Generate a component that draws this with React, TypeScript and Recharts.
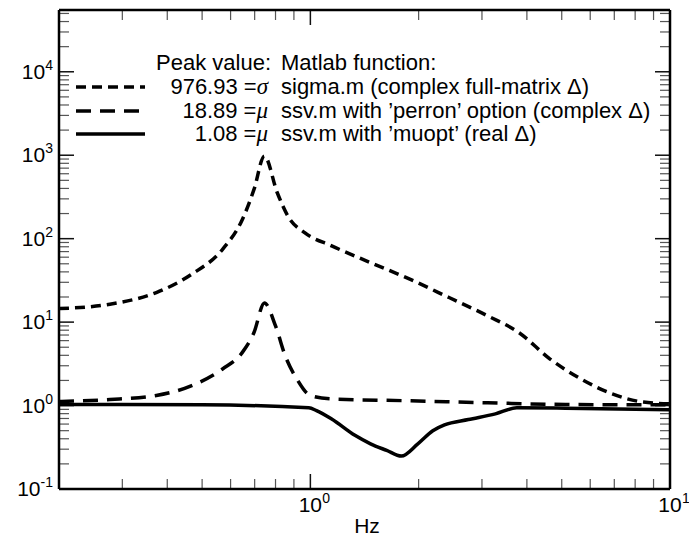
import React from "react";
import * as R from "recharts";
import {
  LineChart,
  Line,
  XAxis,
  YAxis,
  Customized,
} from "recharts";

// frequency (Hz) / value pairs
const sigmaHz = [0.2, 0.277, 0.373, 0.468, 0.57, 0.647, 0.697, 0.745, 0.809, 0.871, 0.964, 1.146, 1.47, 1.89, 2.43, 3.11, 3.8, 4.64, 5.66, 6.91, 8.43, 10];
const sigmaVal = [14.5, 16.4, 22.6, 37.5, 74.6, 170, 389, 976.93, 355, 179, 118, 82, 51.6, 32.7, 19.7, 11.9, 7.5, 3.61, 2.08, 1.38, 1.1, 1.05];

const perronHz = [0.2, 0.277, 0.373, 0.468, 0.57, 0.647, 0.697, 0.745, 0.8, 0.851, 0.917, 1.0, 1.146, 1.89, 3.11, 5.12, 10];
const perronVal = [1.12, 1.18, 1.32, 1.73, 2.74, 4.34, 7.5, 17, 9.0, 3.96, 2.08, 1.32, 1.2, 1.14, 1.08, 1.03, 1.02];

const muoptHz = [0.2, 0.5, 0.99, 1.04, 1.146, 1.33, 1.47, 1.63, 1.79, 1.99, 2.19, 2.36, 2.75, 3.27, 3.75, 5.12, 10];
const muoptVal = [1.03, 1.02, 0.94, 0.87, 0.69, 0.44, 0.348, 0.29, 0.248, 0.348, 0.5, 0.587, 0.68, 0.795, 0.94, 0.93, 0.89];

const xDomain = [0.2, 10];
const yDomain = [0.1, 55000];
const xTicks = [0.3, 0.4, 0.5, 0.6, 0.7, 0.8, 0.9, 1, 2, 3, 4, 5, 6, 7, 8, 9, 10];
const yTicks = [
  0.1, 0.2, 0.3, 0.4, 0.5, 0.6, 0.7, 0.8, 0.9,
  1, 2, 3, 4, 5, 6, 7, 8, 9,
  10, 20, 30, 40, 50, 60, 70, 80, 90,
  100, 200, 300, 400, 500, 600, 700, 800, 900,
  1000, 2000, 3000, 4000, 5000, 6000, 7000, 8000, 9000,
  10000, 20000, 30000, 40000, 50000,
];

const legendPeaks = ["976.93 =", "18.89 =", "1.08 ="];
const legendSymbols = ["\u03c3", "\u03bc", "\u03bc"];
const legendFunctions = [
  "sigma.m (complex full-matrix \u0394)",
  "ssv.m with \u2019perron\u2019 option (complex \u0394)",
  "ssv.m with \u2019muopt\u2019 (real \u0394)",
];

const toPoints = (xs: number[], ys: number[]) => xs.map((x, i) => ({ x, y: ys[i] }));
const sigmaData = toPoints(sigmaHz, sigmaVal);
const perronData = toPoints(perronHz, perronVal);
const muoptData = toPoints(muoptHz, muoptVal);

const W = 689;
const H = 537;
const LEFT_W = 59;
const RIGHT_W = 19;
const TOP_H = 10;
const BOTTOM_H = 48;

const dashes = ["10 6", "15 9", undefined];
const FONT = "'Liberation Sans', Arial, sans-serif";

const isDecade = (v: number) => Math.abs(Math.log10(v) - Math.round(Math.log10(v))) < 1e-9;
const tickLen = (v: number) => (isDecade(v) ? 15 : 10);
const tickFill = (v: number) => (isDecade(v) ? "#111" : "#555");
const tickW = (v: number) => (isDecade(v) ? 1.5 : 1.2);

const LeftLabel = (props: any) => {
  const x = Number(props.x);
  const y = Number(props.y);
  const v = props.payload.value;
  if (!isDecade(v)) return <g />;
  return (
    <text x={x - 6} y={y + 7} textAnchor="end" fontSize={21} fontFamily={FONT} fill="#000">
      10<tspan dy={-9} fontSize={14}>{Math.round(Math.log10(v))}</tspan>
    </text>
  );
};

const BottomLabel = (props: any) => {
  const x = Number(props.x);
  const v = props.payload.value;
  if (!isDecade(v)) return <g />;
  const y = H - BOTTOM_H;
  return (
    <g fontFamily={FONT} fill="#000">
      <text x={x} y={y + 23} textAnchor="middle" fontSize={21}>10</text>
      <text x={x + 12} y={y + 14} fontSize={14}>{Math.round(Math.log10(v))}</text>
    </g>
  );
};

// inner tick marks on all four sides, drawn in the overlay layer as thin filled rects
const FrameTicks = () => {
  const anyR = R as any;
  const area = (anyR.usePlotArea && anyR.usePlotArea()) || null;
  const left = area ? area.x : LEFT_W;
  const top = area ? area.y : TOP_H;
  const width = area ? area.width : W - LEFT_W - RIGHT_W;
  const height = area ? area.height : H - TOP_H - BOTTOM_H;
  const lx0 = Math.log10(xDomain[0]);
  const lx1 = Math.log10(xDomain[1]);
  const ly0 = Math.log10(yDomain[0]);
  const ly1 = Math.log10(yDomain[1]);
  const px = (v: number) => left + (width * (Math.log10(v) - lx0)) / (lx1 - lx0);
  const py = (v: number) => top + height - (height * (Math.log10(v) - ly0)) / (ly1 - ly0);
  const bottom = top + height;
  const right = left + width;
  return (
    <g>
      {xTicks.map((v) => (
        <g key={`x${v}`} fill={tickFill(v)}>
          <rect x={px(v) - tickW(v) / 2} y={bottom - tickLen(v)} width={tickW(v)} height={tickLen(v)} />
          <rect x={px(v) - tickW(v) / 2} y={top} width={tickW(v)} height={tickLen(v)} />
        </g>
      ))}
      {yTicks.map((v) => (
        <g key={`y${v}`} fill={tickFill(v)}>
          <rect x={left} y={py(v) - tickW(v) / 2} width={tickLen(v)} height={tickW(v)} />
          <rect x={right - tickLen(v)} y={py(v) - tickW(v) / 2} width={tickLen(v)} height={tickW(v)} />
        </g>
      ))}
    </g>
  );
};

const LegendBlock = () => {
  const rowY = [87, 111, 134];
  return (
    <g fontFamily={FONT} fontSize={22} fill="#000">
      <text x={271} y={70} textAnchor="end">Peak value:</text>
      <text x={281} y={70}>Matlab function:</text>
      {rowY.map((ry, i) => (
        <g key={i}>
          <line x1={76} y1={ry} x2={145} y2={ry} stroke="#000" strokeWidth={3.5} strokeDasharray={dashes[i]} />
          <text x={268} y={ry + 7} textAnchor="end">
            {legendPeaks[i]}
            <tspan fontFamily="'Liberation Serif', serif" fontStyle="italic" fontSize={23}>{legendSymbols[i]}</tspan>
          </text>
          <text x={281} y={ry + 7}>{legendFunctions[i]}</text>
        </g>
      ))}
    </g>
  );
};

export default function App() {
  return (
    <div style={{ position: "absolute", left: 0, top: 0, background: "#fff" }}>
      <LineChart width={W} height={H} margin={{ top: 0, right: 0, bottom: 0, left: 0 }}>
        <XAxis xAxisId="b" dataKey="x" type="number" scale="log" domain={xDomain} allowDataOverflow ticks={xTicks} interval={0} height={BOTTOM_H} tickSize={0} tickMargin={0} tickLine={false} tick={BottomLabel} axisLine={{ stroke: "#000", strokeWidth: 2.5 }} />
        <XAxis xAxisId="t" orientation="top" dataKey="x" type="number" scale="log" domain={xDomain} allowDataOverflow height={TOP_H} tick={false} tickLine={false} axisLine={{ stroke: "#000", strokeWidth: 2.5 }} />
        <YAxis yAxisId="l" type="number" scale="log" domain={yDomain} allowDataOverflow ticks={yTicks} interval={0} width={LEFT_W} tickSize={0} tickMargin={0} tickLine={false} tick={LeftLabel} axisLine={{ stroke: "#000", strokeWidth: 2.5 }} />
        <YAxis yAxisId="r" orientation="right" type="number" scale="log" domain={yDomain} allowDataOverflow width={RIGHT_W} tick={false} tickLine={false} axisLine={{ stroke: "#000", strokeWidth: 2.5 }} />
        <Line xAxisId="b" yAxisId="l" data={sigmaData} dataKey="y" type="monotone" stroke="#000" strokeWidth={3.5} strokeDasharray={dashes[0]} dot={false} isAnimationActive={false} />
        <Line xAxisId="b" yAxisId="l" data={perronData} dataKey="y" type="monotone" stroke="#000" strokeWidth={3.5} strokeDasharray={dashes[1]} dot={false} isAnimationActive={false} />
        <Line xAxisId="b" yAxisId="l" data={muoptData} dataKey="y" type="monotone" stroke="#000" strokeWidth={3.5} dot={false} isAnimationActive={false} />
        <Customized component={FrameTicks} />
        <Customized component={LegendBlock} />
        <text x={367} y={533} textAnchor="middle" fontSize={21} fontFamily={FONT} fill="#000">Hz</text>
      </LineChart>
    </div>
  );
}
